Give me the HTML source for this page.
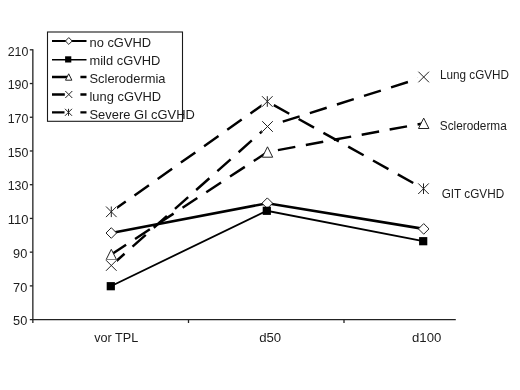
<!DOCTYPE html><html><head><meta charset="utf-8"><title>chart</title><style>html,body{margin:0;padding:0;background:#fff}svg{display:block}text{font-family:"Liberation Sans",Arial,sans-serif;fill:#1c1c1c}</style></head><body>
<svg width="520" height="390" viewBox="0 0 520 390">
<rect width="520" height="390" fill="#fff"/>
<g stroke="#222" stroke-width="1.3" fill="none">
<line x1="32.85" y1="49.2" x2="32.85" y2="323"/>
<line x1="29.8" y1="319.6" x2="455.8" y2="319.6"/>
<line x1="29.8" y1="49.80" x2="32.85" y2="49.80"/>
<line x1="29.8" y1="83.53" x2="32.85" y2="83.53"/>
<line x1="29.8" y1="117.25" x2="32.85" y2="117.25"/>
<line x1="29.8" y1="150.98" x2="32.85" y2="150.98"/>
<line x1="29.8" y1="184.70" x2="32.85" y2="184.70"/>
<line x1="29.8" y1="218.43" x2="32.85" y2="218.43"/>
<line x1="29.8" y1="252.15" x2="32.85" y2="252.15"/>
<line x1="29.8" y1="285.88" x2="32.85" y2="285.88"/>
<line x1="188.5" y1="319.6" x2="188.5" y2="323"/>
<line x1="344" y1="319.6" x2="344" y2="323"/>
</g>
<text x="7.7" y="55.50" font-size="13.4" textLength="20.7" lengthAdjust="spacingAndGlyphs">210</text>
<text x="7.7" y="89.23" font-size="13.4" textLength="20.7" lengthAdjust="spacingAndGlyphs">190</text>
<text x="7.7" y="122.95" font-size="13.4" textLength="20.7" lengthAdjust="spacingAndGlyphs">170</text>
<text x="7.7" y="156.68" font-size="13.4" textLength="20.7" lengthAdjust="spacingAndGlyphs">150</text>
<text x="7.7" y="190.40" font-size="13.4" textLength="20.7" lengthAdjust="spacingAndGlyphs">130</text>
<text x="7.7" y="224.12" font-size="13.4" textLength="20.7" lengthAdjust="spacingAndGlyphs">110</text>
<text x="13.1" y="257.85" font-size="13.4" textLength="14.2" lengthAdjust="spacingAndGlyphs">90</text>
<text x="13.1" y="291.57" font-size="13.4" textLength="14.2" lengthAdjust="spacingAndGlyphs">70</text>
<text x="13.1" y="325.30" font-size="13.4" textLength="14.2" lengthAdjust="spacingAndGlyphs">50</text>
<text x="94.2" y="342" font-size="13" textLength="44" lengthAdjust="spacingAndGlyphs">vor TPL</text>
<text x="259.2" y="342" font-size="13" textLength="22" lengthAdjust="spacingAndGlyphs">d50</text>
<text x="412" y="342" font-size="13" textLength="29.3" lengthAdjust="spacingAndGlyphs">d100</text>
<polyline points="111.3,233.0 267.3,203.2 423.7,228.9" fill="none" stroke="#000" stroke-width="2.6"/>
<polyline points="110.8,286.2 266.8,210.8 423.2,241.2" fill="none" stroke="#000" stroke-width="1.8"/>
<line x1="111.3" y1="254.5" x2="267.5" y2="152.0" stroke="#000" stroke-width="2.45" stroke-dasharray="17.7 10.7"/><line x1="267.5" y1="152.0" x2="423.7" y2="123.3" stroke="#000" stroke-width="2.45" stroke-dasharray="17.7 10.7" stroke-dashoffset="17.83"/>
<polygon points="111.30,249.30 116.50,259.70 106.10,259.70" fill="#fff" stroke="#222" stroke-width="1"/>
<polygon points="267.50,146.80 272.70,157.20 262.30,157.20" fill="#fff" stroke="#222" stroke-width="1"/>
<polygon points="423.70,118.10 428.90,128.50 418.50,128.50" fill="#fff" stroke="#222" stroke-width="1"/>
<line x1="111.3" y1="265.5" x2="267.5" y2="126.5" stroke="#000" stroke-width="2.45" stroke-dasharray="17.7 10.7"/><line x1="267.5" y1="126.5" x2="423.7" y2="77.0" stroke="#000" stroke-width="2.45" stroke-dasharray="17.7 10.7" stroke-dashoffset="12.39"/>
<rect x="105.50" y="259.70" width="11.60" height="11.60" fill="#fff"/><path d="M106.00,260.20L116.60,270.80M106.00,270.80L116.60,260.20" stroke="#222" stroke-width="1" fill="none"/>
<rect x="261.70" y="120.70" width="11.60" height="11.60" fill="#fff"/><path d="M262.20,121.20L272.80,131.80M262.20,131.80L272.80,121.20" stroke="#222" stroke-width="1" fill="none"/>
<rect x="417.90" y="71.20" width="11.60" height="11.60" fill="#fff"/><path d="M418.40,71.70L429.00,82.30M418.40,82.30L429.00,71.70" stroke="#222" stroke-width="1" fill="none"/>
<line x1="111.3" y1="211.8" x2="267.3" y2="101.5" stroke="#000" stroke-width="2.45" stroke-dasharray="17.7 10.7"/><line x1="267.3" y1="101.5" x2="423.5" y2="188.7" stroke="#000" stroke-width="2.45" stroke-dasharray="17.7 10.7" stroke-dashoffset="20.96"/>
<rect x="105.50" y="206.00" width="11.60" height="11.60" fill="#fff"/><path d="M106.00,206.50L116.60,217.10M106.00,217.10L116.60,206.50M111.30,206.50L111.30,217.10" stroke="#222" stroke-width="1" fill="none"/>
<rect x="261.50" y="95.70" width="11.60" height="11.60" fill="#fff"/><path d="M262.00,96.20L272.60,106.80M262.00,106.80L272.60,96.20M267.30,96.20L267.30,106.80" stroke="#222" stroke-width="1" fill="none"/>
<rect x="417.70" y="182.90" width="11.60" height="11.60" fill="#fff"/><path d="M418.20,183.40L428.80,194.00M418.20,194.00L428.80,183.40M423.50,183.40L423.50,194.00" stroke="#222" stroke-width="1" fill="none"/>
<polygon points="106.00,233.00 111.30,227.70 116.60,233.00 111.30,238.30" fill="#fff" stroke="#222" stroke-width="1"/>
<polygon points="262.00,203.20 267.30,197.90 272.60,203.20 267.30,208.50" fill="#fff" stroke="#222" stroke-width="1"/>
<polygon points="418.40,228.90 423.70,223.60 429.00,228.90 423.70,234.20" fill="#fff" stroke="#222" stroke-width="1"/>
<rect x="106.70" y="282.10" width="8.20" height="8.20" fill="#000"/>
<rect x="262.70" y="206.70" width="8.20" height="8.20" fill="#000"/>
<rect x="419.10" y="237.10" width="8.20" height="8.20" fill="#000"/>
<text x="440" y="78.5" font-size="12.3" textLength="69" lengthAdjust="spacingAndGlyphs">Lung cGVHD</text>
<text x="439.8" y="129.6" font-size="12.3" textLength="67" lengthAdjust="spacingAndGlyphs">Scleroderma</text>
<text x="441.7" y="198" font-size="12.3" textLength="62.5" lengthAdjust="spacingAndGlyphs">GIT cGVHD</text>
<rect x="47.5" y="32" width="135" height="89.3" fill="#fff" stroke="#1a1a1a" stroke-width="1.1"/>
<line x1="52" y1="41" x2="86.5" y2="41" stroke="#000" stroke-width="2.2"/>
<polygon points="65.40,41.00 68.80,37.60 72.20,41.00 68.80,44.40" fill="#fff" stroke="#222" stroke-width="1"/>
<line x1="52" y1="59.7" x2="86.5" y2="59.7" stroke="#000" stroke-width="1.6"/>
<rect x="65.10" y="56.30" width="6.20" height="6.20" fill="#000"/>
<line x1="52" y1="77" x2="86.5" y2="77" stroke="#000" stroke-width="2.3" stroke-dasharray="17.7 10.7"/>
<polygon points="68.70,73.80 71.90,80.20 65.50,80.20" fill="#fff" stroke="#222" stroke-width="1"/>
<line x1="52" y1="94.5" x2="86.5" y2="94.5" stroke="#000" stroke-width="2.3" stroke-dasharray="17.7 10.7"/>
<rect x="64.80" y="90.50" width="8.00" height="8.00" fill="#fff"/><path d="M65.30,91.00L72.30,98.00M65.30,98.00L72.30,91.00" stroke="#222" stroke-width="1" fill="none"/>
<line x1="52" y1="112.3" x2="86.5" y2="112.3" stroke="#000" stroke-width="2.3" stroke-dasharray="17.7 10.7"/>
<rect x="64.50" y="108.30" width="8.00" height="8.00" fill="#fff"/><path d="M65.00,108.80L72.00,115.80M65.00,115.80L72.00,108.80M68.50,108.80L68.50,115.80" stroke="#222" stroke-width="1" fill="none"/>
<text x="89.5" y="46.9" font-size="12.9">no cGVHD</text>
<text x="89.5" y="65.0" font-size="12.9">mild cGVHD</text>
<text x="89.5" y="83.0" font-size="12.9">Sclerodermia</text>
<text x="89.5" y="101.1" font-size="12.9">lung cGVHD</text>
<text x="89.5" y="119.2" font-size="12.9">Severe GI cGVHD</text>
</svg></body></html>
